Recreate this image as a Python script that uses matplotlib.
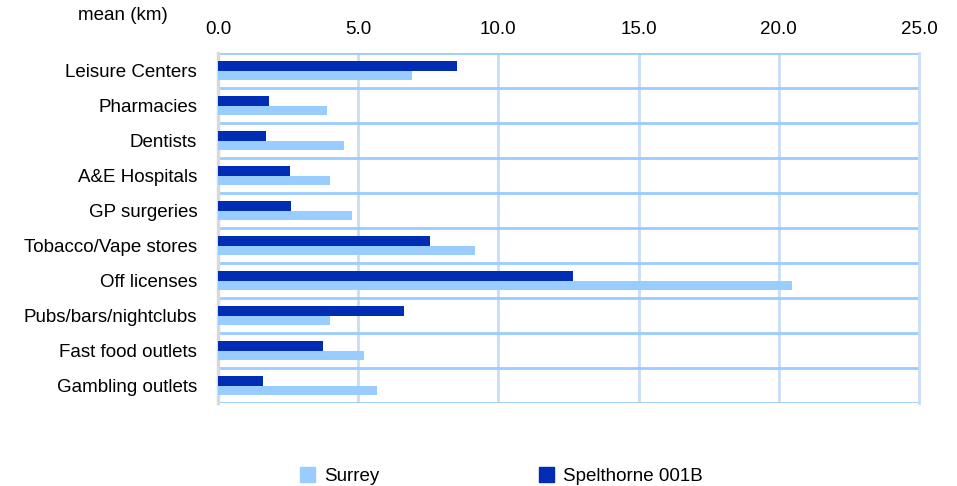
import numpy as np
import matplotlib
matplotlib.use('Agg')
from matplotlib import pyplot as plt
from matplotlib.patches import Patch

plt.rcParams['font.family'] = ['Liberation Sans', 'DejaVu Sans']

categories = ['Leisure Centers', 'Pharmacies', 'Dentists', 'A&E Hospitals', 'GP surgeries',
              'Tobacco/Vape stores', 'Off licenses', 'Pubs/bars/nightclubs',
              'Fast food outlets', 'Gambling outlets']
surrey = [6.91, 3.88, 4.49, 3.99, 4.77, 9.16, 20.47, 3.98, 5.19, 5.68]
spelthorne = [8.51, 1.82, 1.71, 2.56, 2.60, 7.56, 12.66, 6.62, 3.73, 1.59]
xticks = [0, 5, 10, 15, 20, 25]

c_surrey = '#99CCFF'
c_spel = '#002DB3'
fs = 13.5

fig = plt.figure(figsize=(9.57, 4.86), dpi=100)
ax = fig.add_axes([218/957, 1-403/486, 701/957, 350/486])

y = np.arange(len(categories))
h = 0.28
ax.barh(y - 0.135, spelthorne, height=h, color=c_spel, zorder=3)
ax.barh(y + 0.145, surrey, height=h, color=c_surrey, zorder=3)

ax.set_xlim(0, 25)
ax.set_ylim(len(categories) - 0.5, -0.5)
ax.set_xticks(xticks)
ax.set_xticklabels(['%.1f' % v for v in xticks])
ax.xaxis.tick_top()
ax.set_yticks(y)
ax.set_yticklabels(categories)
ax.tick_params(axis='x', length=0, pad=10.5, labelsize=fs)
ax.tick_params(axis='y', length=0, pad=15, labelsize=fs)

# grid
for v in xticks[1:-1]:
    ax.axvline(v, color='#C9DDF5', lw=2, zorder=1)
for b in np.arange(-0.5, len(categories), 1.0):
    ax.axhline(b, color=c_surrey, lw=2, zorder=1)

for s in ['top', 'bottom']:
    ax.spines[s].set_visible(False)
ax.spines['right'].set_color('#C9DDF5')
ax.spines['right'].set_linewidth(2)
ax.spines['left'].set_color('#D9D9D9')
ax.spines['left'].set_linewidth(2.5)

fig.text(123/957, 1-16/486, 'mean (km)', ha='center', va='center', fontsize=fs)

handles = [Patch(color=c_surrey), Patch(color=c_spel)]
fig.legend(handles, ['Surrey', 'Spelthorne 001B'], loc='center', ncol=2,
           bbox_to_anchor=(501.5/957, 1-476/486), frameon=False, fontsize=fs,
           handlelength=0.8, handleheight=0.8, handletextpad=0.5, columnspacing=8.5)

fig.savefig('out.png', dpi=100)
